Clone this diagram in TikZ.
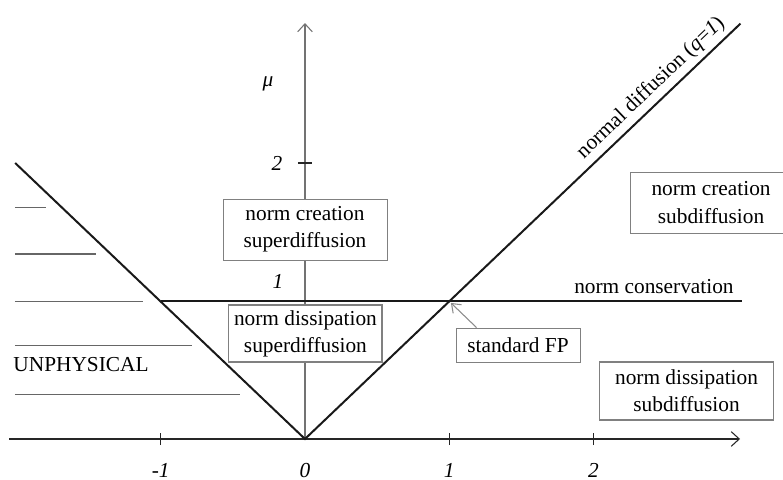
\documentclass[tikz,border=0pt]{standalone}
\usepackage{fontspec}
\setmainfont{Liberation Serif}
\usetikzlibrary{arrows.meta}
\begin{document}
\begin{tikzpicture}[x=108.15pt,y=103.5pt,
  txt/.style={font=\fontsize{16}{20.5}\selectfont, text=black, inner sep=0pt},
  num/.style={font=\fontsize{16}{20}\selectfont\itshape, text=black, inner sep=0pt},
  regbox/.style={draw=black!50, line width=0.6pt, fill=white, align=center,
    font=\fontsize{16}{20.5}\selectfont, text=black, inner sep=0pt},
  axisline/.style={line width=1.1pt, black!85},
  yaxisline/.style={line width=1.1pt, black!55},
  vline/.style={line width=1.5pt, black!90},
  hatch/.style={line width=0.7pt, black!60},
  tick/.style={line width=0.9pt, black!85},
  barb/.style={-{Straight Barb[length=6pt,width=11pt,line width=0.8pt]}},
  fparrow/.style={line width=0.8pt, black!45, -{Straight Barb[length=6pt,width=9pt,line width=0.8pt]}}
]
\useasboundingbox (-2.115,-0.297) rectangle (3.315,3.181);
\clip (-2.115,-0.297) rectangle (3.315,3.181);

% coordinates
\coordinate (O) at (0,0);
\coordinate (L) at (-2.01,2.0);
\coordinate (R) at (3.02,3.01);
\coordinate (Pm) at (-1,1);
\coordinate (Pp) at (1,1);
\coordinate (Nend) at (3.03,1);
\coordinate (Xs) at (-2.05,0);
\coordinate (Xm) at (0.66,0);
\coordinate (Xe) at (3.017,0);
\coordinate (Ye) at (0,3.014);

% hatch lines of unphysical region
\coordinate (h1a) at (-2.011,1.681); \coordinate (h1b) at (-1.796,1.681);
\coordinate (h2a) at (-2.011,1.341); \coordinate (h2b) at (-1.449,1.341);
\coordinate (h3a) at (-2.011,1.0);   \coordinate (h3b) at (-1.123,1.0);
\coordinate (h4a) at (-2.011,0.674); \coordinate (h4b) at (-0.784,0.674);
\coordinate (h5a) at (-2.011,0.326); \coordinate (h5b) at (-0.451,0.326);
\draw[hatch] (h1a) -- (h1b);
\draw[hatch, line width=1.3pt] (h2a) -- (h2b);
\draw[hatch] (h3a) -- (h3b);
\draw[hatch] (h4a) -- (h4b);
\draw[hatch] (h5a) -- (h5b);

% y axis
\draw[yaxisline, barb] (O) -- (Ye);
\coordinate (t2a) at (-0.05,2); \coordinate (t2b) at (0.05,2);
\draw[tick] (t2a) -- (t2b);

% x axis
\draw[axisline, barb] (Xs) -- (Xe);
\draw[line width=2pt, black!85] (Xs) -- (Xm);
\foreach \v/\n in {-1/m1, 1/p1, 2/p2}{
  \coordinate (tx\n a) at (\v,-0.045); \coordinate (tx\n b) at (\v,0.045);
  \draw[tick] (tx\n a) -- (tx\n b);
}

% norm conservation line
\draw[line width=1.1pt, black!90] (Pm) -- (Nend);

% V lines
\draw[vline] (L) -- (O) -- (R);

% boxes
\node[regbox, minimum width=123pt, minimum height=45.75pt] (ncsup) at (0,1.518)
  {norm creation\\superdiffusion};
\node[regbox, line width=1.1pt, minimum width=115pt, minimum height=42.75pt] (ndsup) at (0.003,0.764)
  {norm dissipation\\superdiffusion};
\node[regbox, minimum width=93pt, minimum height=25.5pt] (fp) at (1.477,0.681)
  {standard FP};
\node[regbox, minimum width=121.5pt, minimum height=45.75pt] (ncsub) at (2.816,1.714)
  {norm creation\\subdiffusion};
\node[regbox, line width=0.9pt, minimum width=130pt, minimum height=43.5pt] (ndsub) at (2.646,0.348)
  {norm dissipation\\subdiffusion};

% standard FP arrow
\coordinate (fptip) at (1.012,0.986);
\draw[fparrow] ([xshift=15.75pt]fp.north west) -- (fptip);

% labels
\node[txt] (unph) at (-1.553,0.536) {UNPHYSICAL};
\node[txt] (ncons) at (2.42,1.101) {norm conservation};
\node[txt, rotate=43.7] (ndiff) at (2.399,2.543) {normal diffusion (\textit{q}=\textit{1})};
\node[num] (mu) at (-0.257,2.57) {μ};
\node[num] (ly2) at (-0.194,2.0) {2};
\node[num] (ly1) at (-0.187,1.138) {1};
\node[num] (lxm1) at (-1,-0.225) {-1};
\node[num] (lx0) at (0,-0.225) {0};
\node[num] (lx1) at (1,-0.225) {1};
\node[num] (lx2) at (2,-0.225) {2};
\end{tikzpicture}
\end{document}
